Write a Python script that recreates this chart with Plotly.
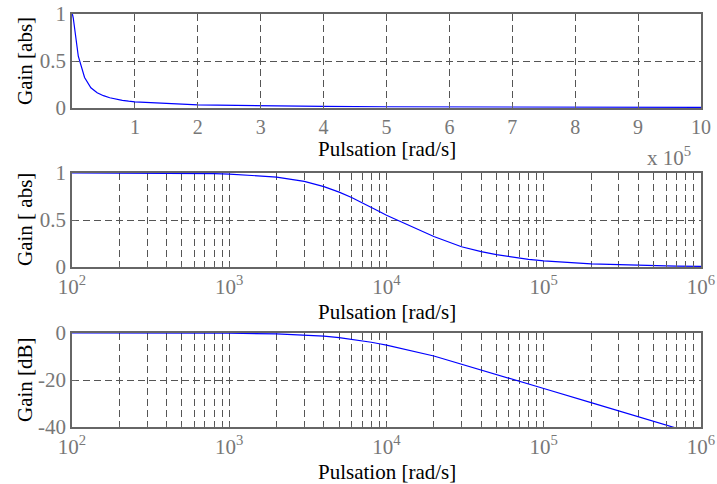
import plotly.graph_objects as go

# ---- data ----
freq = [1e2, 2e2, 3e2, 4e2, 5e2, 6e2, 7e2, 8e2, 9e2,
        1e3, 2e3, 3e3, 4e3, 5e3, 6e3, 7e3, 8e3, 9e3,
        1e4, 2e4, 3e4, 4e4, 5e4, 6e4, 7e4, 8e4, 9e4,
        1e5, 2e5, 3e5, 4e5, 5e5, 6e5, 7e5, 8e5, 9e5, 1e6]
gain_abs = [1.000, 1.000, 0.999, 0.998, 0.997, 0.996, 0.994, 0.993, 0.991,
            0.989, 0.957, 0.910, 0.855, 0.797, 0.740, 0.686, 0.636, 0.591,
            0.551, 0.325, 0.215, 0.163, 0.131, 0.109, 0.094, 0.082, 0.073,
            0.066, 0.033, 0.022, 0.0165, 0.0132, 0.0110, 0.0094, 0.0082, 0.0073, 0.0066]
gain_db = [0.0, 0.0, -0.01, -0.02, -0.03, -0.04, -0.05, -0.06, -0.08,
           -0.10, -0.38, -0.82, -1.36, -1.97, -2.62, -3.27, -3.93, -4.56,
           -5.18, -9.8, -13.36, -15.77, -17.66, -19.23, -20.55, -21.70, -22.72,
           -23.63, -29.64, -33.15, -35.65, -37.59, -39.17, -40.51, -41.67, -42.69, -43.61]

lin_tickvals = [1e5, 2e5, 3e5, 4e5, 5e5, 6e5, 7e5, 8e5, 9e5, 1e6]
lin_ticktext = ["1", "2", "3", "4", "5", "6", "7", "8", "9", "10"]
log_tickvals = [1e2, 1e3, 1e4, 1e5, 1e6]
log_ticktext = ["10<sup>2</sup>", "10<sup>3</sup>", "10<sup>4</sup>", "10<sup>5</sup>", "10<sup>6</sup>"]
abs_tickvals = [0, 0.5, 1]
abs_ticktext = ["0", "0.5", "1"]
db_tickvals = [-40, -20, 0]
db_ticktext = ["-40", "-20", "0"]
minor_vals = [m * 10 ** k for k in range(2, 6) for m in range(2, 10)]

FONT = "Liberation Serif"
TICKC = "#777777"
FRAME = "#666666"
GRID = "#555555"
LINE = "#0000ff"
DASH = "7px,4px"

fig = go.Figure()
fig.add_trace(go.Scatter(x=freq, y=gain_abs, mode="lines", line=dict(color=LINE, width=1.2),
                         xaxis="x", yaxis="y", showlegend=False))
fig.add_trace(go.Scatter(x=freq, y=gain_abs, mode="lines", line=dict(color=LINE, width=1.2),
                         xaxis="x2", yaxis="y2", showlegend=False))
fig.add_trace(go.Scatter(x=freq, y=gain_db, mode="lines", line=dict(color=LINE, width=1.2),
                         xaxis="x3", yaxis="y3", showlegend=False))

common = dict(showline=True, mirror=True, linecolor=FRAME, linewidth=1.5,
              showgrid=True, gridcolor=GRID, griddash=DASH, gridwidth=0.8,
              ticks="inside", ticklen=4, tickcolor=FRAME, zeroline=False,
              automargin=False)
tf21 = dict(family=FONT, size=21, color=TICKC)
tf20 = dict(family=FONT, size=20, color=TICKC)

H = 413.0
def dom(top_px, bot_px):
    return [(427 - bot_px) / H, (427 - top_px) / H]

d1 = dom(14, 108)
d2 = dom(173, 267)
d3 = dom(333, 427)

minor_cfg = dict(tickvals=minor_vals, showgrid=True, gridcolor=GRID,
                 griddash=DASH, gridwidth=0.8, ticks="inside", ticklen=2,
                 tickcolor=FRAME)

fig.update_layout(
    width=717, height=484,
    margin=dict(l=72, r=16, t=14, b=57, autoexpand=False),
    paper_bgcolor="white", plot_bgcolor="white",
    font=dict(family=FONT, size=21, color="black"),
    xaxis=dict(domain=[0, 1], anchor="y", range=[0, 1e6], tickmode="array",
               tickvals=lin_tickvals, ticktext=lin_ticktext, tickfont=tf20, **common),
    yaxis=dict(domain=d1, anchor="x", range=[0, 1], tickmode="array",
               tickvals=abs_tickvals, ticktext=abs_ticktext, tickfont=tf21, **common),
    xaxis2=dict(domain=[0, 1], anchor="y2", type="log", range=[2, 6], tickmode="array",
                tickvals=log_tickvals, ticktext=log_ticktext, minor=minor_cfg,
                tickfont=tf21, **common),
    yaxis2=dict(domain=d2, anchor="x2", range=[0, 1], tickmode="array",
                tickvals=abs_tickvals, ticktext=abs_ticktext, tickfont=tf21, **common),
    xaxis3=dict(domain=[0, 1], anchor="y3", type="log", range=[2, 6], tickmode="array",
                tickvals=log_tickvals, ticktext=log_ticktext, minor=minor_cfg,
                tickfont=tf21, **common),
    yaxis3=dict(domain=d3, anchor="x3", range=[-40, 0], tickmode="array",
                tickvals=db_tickvals, ticktext=db_ticktext, tickfont=tf21, **common),
)

ann = []
for d, off in [(d1, 41), (d2, 45), (d3, 45)]:
    ann.append(dict(text="Pulsation [rad/s]", xref="paper", yref="paper", x=0.5, y=d[0],
                    xanchor="center", yanchor="middle", yshift=-off, showarrow=False,
                    font=dict(family=FONT, size=21, color="black")))
for d, t in [(d1, "Gain [abs]"), (d2, "Gain [ abs]"), (d3, "Gain [dB]")]:
    ann.append(dict(text=t, xref="paper", yref="paper", x=0, y=(d[0] + d[1]) / 2,
                    xanchor="center", yanchor="middle", xshift=-47, textangle=-90,
                    showarrow=False, font=dict(family=FONT, size=21, color="black")))
ann.append(dict(text="x 10<sup>5</sup>", xref="paper", yref="paper", x=(693 - 72) / 629.0,
                y=d1[0], xanchor="right", yanchor="middle", yshift=-48, showarrow=False,
                font=dict(family=FONT, size=21, color=TICKC)))
fig.update_layout(annotations=ann)

fig.write_html("out.html", config={"displayModeBar": False},
               post_script="document.body.style.margin='0px';")
